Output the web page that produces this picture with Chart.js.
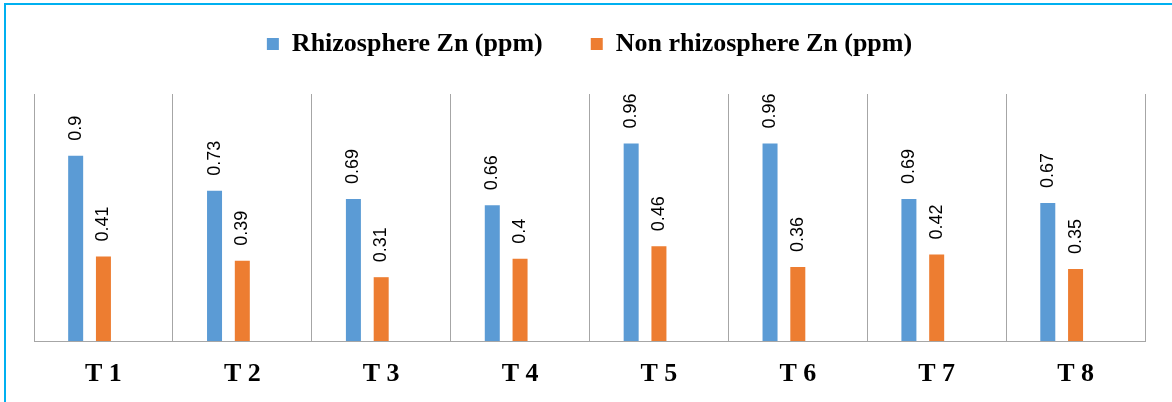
<!DOCTYPE html>
<html lang="en">
<head>
    <meta charset="UTF-8">
    <title>Rhizosphere vs Non rhizosphere Zn</title>
    <script src="https://cdn.jsdelivr.net/npm/chart.js"></script>
    <style>
        html, body {
            margin: 0;
            padding: 0;
            background: #fff;
            overflow: hidden;
        }
        #frame {
            position: absolute;
            left: 4px;
            top: 3px;
            width: 1200px;
            height: 430px;
            border-top: 2px solid #00b0f0;
            border-left: 2px solid #00b0f0;
        }
        #wrap {
            position: absolute;
            left: 0;
            top: 0;
            width: 1172px;
            height: 402px;
        }
    </style>
</head>
<body>

<div id="frame"></div>
<div id="wrap">
    <canvas id="znChart"></canvas>
</div>

<script>
    const treatments = ['T 1', 'T 2', 'T 3', 'T 4', 'T 5', 'T 6', 'T 7', 'T 8'];
    const rhizosphereZn = [0.9, 0.73, 0.69, 0.66, 0.96, 0.96, 0.69, 0.67];
    const nonRhizosphereZn = [0.41, 0.39, 0.31, 0.4, 0.46, 0.36, 0.42, 0.35];
    // the source sheet has a third, empty series, which is why the bars sit left of centre
    const emptySeries = [null, null, null, null, null, null, null, null];

    // rotated value labels above each bar
    const barLabels = {
        id: 'barLabels',
        afterDatasetsDraw(chart) {
            const ctx = chart.ctx;
            ctx.save();
            ctx.font = '18px "Liberation Sans", Arial, sans-serif';
            ctx.fillStyle = '#000';
            ctx.textAlign = 'left';
            ctx.textBaseline = 'middle';
            [0, 1].forEach(di => {
                const meta = chart.getDatasetMeta(di);
                meta.data.forEach((bar, i) => {
                    const v = chart.data.datasets[di].data[i];
                    ctx.save();
                    ctx.translate(bar.x, bar.y - 15);
                    ctx.rotate(-Math.PI / 2);
                    ctx.fillText(String(v), 0, 0);
                    ctx.restore();
                });
            });
            ctx.restore();
        }
    };

    // lift the legend row up without giving back the room under it
    const legendNudge = {
        id: 'legendNudge',
        afterLayout(chart) {
            if (chart.legend) {
                chart.legend.top -= 27;
                chart.legend.bottom -= 27;
            }
        }
    };

    new Chart(document.getElementById('znChart'), {
        type: 'bar',
        data: {
            labels: treatments,
            datasets: [{
                label: 'Rhizosphere Zn (ppm)',
                data: rhizosphereZn,
                backgroundColor: '#5b9bd5'
            }, {
                label: 'Non rhizosphere Zn (ppm)',
                data: nonRhizosphereZn,
                backgroundColor: '#ed7d31'
            }, {
                label: '',
                data: emptySeries,
                backgroundColor: '#a5a5a5'
            }]
        },
        options: {
            responsive: true,
            maintainAspectRatio: false,
            animation: false,
            categoryPercentage: 0.6,
            barPercentage: 0.54,
            layout: {
                padding: {left: 34, right: 27, top: 10, bottom: 13}
            },
            plugins: {
                legend: {
                    position: 'top',
                    labels: {
                        boxWidth: 12,
                        boxHeight: 12,
                        padding: 48,
                        color: '#000',
                        font: {family: '"Liberation Serif", "Times New Roman", serif', size: 26, weight: 'bold'},
                        filter: item => item.datasetIndex < 2
                    }
                },
                tooltip: {enabled: false}
            },
            scales: {
                x: {
                    afterFit(scale) {
                        scale.height = 48;
                    },
                    grid: {
                        display: true,
                        offset: true,
                        color: '#a6a6a6',
                        drawTicks: false
                    },
                    border: {color: '#a6a6a6'},
                    ticks: {
                        padding: 18,
                        color: '#000',
                        font: {family: '"Liberation Serif", "Times New Roman", serif', size: 26, weight: 'bold'}
                    }
                },
                y: {
                    display: false,
                    min: 0,
                    max: 1.2
                }
            }
        },
        plugins: [barLabels, legendNudge]
    });
</script>
</body>
</html>
